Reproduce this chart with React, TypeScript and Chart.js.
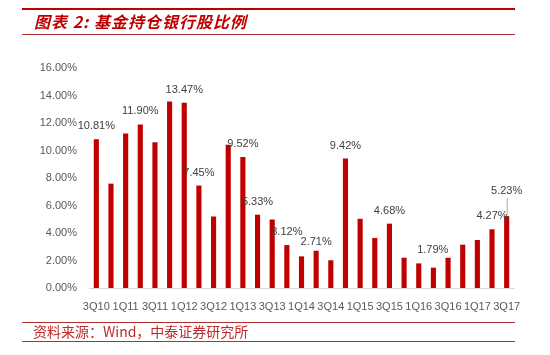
import React, { useEffect, useRef } from "react";
import { Chart, registerables } from "chart.js";

Chart.register(...registerables);

const categories = [
  "3Q10", "4Q10", "1Q11", "2Q11", "3Q11", "4Q11", "1Q12", "2Q12", "3Q12", "4Q12",
  "1Q13", "2Q13", "3Q13", "4Q13", "1Q14", "2Q14", "3Q14", "4Q14", "1Q15", "2Q15",
  "3Q15", "4Q15", "1Q16", "2Q16", "3Q16", "4Q16", "1Q17", "2Q17", "3Q17",
];

const holdings = [
  10.81, 7.59, 11.24, 11.9, 10.6, 13.57, 13.47, 7.45, 5.2, 10.42,
  9.52, 5.33, 4.98, 3.12, 2.3, 2.71, 2.02, 9.42, 5.03, 3.64,
  4.68, 2.2, 1.79, 1.48, 2.2, 3.15, 3.49, 4.27, 5.23,
];

const labelledQuarters = [
  "3Q10", "2Q11", "1Q12", "2Q12", "1Q13", "2Q13", "4Q13", "2Q14", "4Q14",
  "3Q15", "1Q16", "2Q17", "3Q17",
];

const yTicks = [0, 2, 4, 6, 8, 10, 12, 14, 16];

const titleText = "图表 2: 基金持仓银行股比例";
const sourceText = "资料来源：Wind，中泰证券研究所";

const RED = "#c00000";
const FONT = "'Liberation Sans', Arial, sans-serif";

const decorPlugin = {
  id: "decor",
  beforeDraw(chart: any) {
    const ctx = chart.ctx;
    ctx.save();
    ctx.fillStyle = "#ffffff";
    ctx.fillRect(0, 0, chart.width, chart.height);
    ctx.restore();
  },
  afterDraw(chart: any) {
    const ctx = chart.ctx;
    ctx.save();
    // header lines
    ctx.fillStyle = RED;
    ctx.fillRect(22, 8, 493, 2);
    ctx.fillStyle = "#b03030";
    ctx.fillRect(22, 34, 493, 1);
    // footer lines
    ctx.fillRect(22, 322, 493, 1);
    ctx.fillRect(22, 341, 493, 1);
    // title
    ctx.fillStyle = RED;
    ctx.textBaseline = "alphabetic";
    ctx.textAlign = "left";
    ctx.font = "italic bold 16px 'Noto Sans CJK SC', sans-serif";
    (ctx as any).letterSpacing = "1px";
    ctx.fillText(titleText, 34, 28);
    // footer
    ctx.font = "14px 'Noto Sans CJK SC', sans-serif";
    (ctx as any).letterSpacing = "0px";
    ctx.fillStyle = "#c0282a";
    ctx.fillText(sourceText, 33, 337);
    ctx.restore();
  },
};

const dataLabelPlugin = {
  id: "barLabels",
  afterDatasetsDraw(chart: any) {
    const ctx = chart.ctx;
    const meta = chart.getDatasetMeta(0);
    ctx.save();
    ctx.font = "11px " + FONT;
    ctx.fillStyle = "#404040";
    ctx.textAlign = "center";
    ctx.textBaseline = "middle";
    categories.forEach((q, i) => {
      if (!labelledQuarters.includes(q)) return;
      const bar = meta.data[i];
      let x = bar.x;
      let y = bar.y - 13;
      if (q === "1Q16") x += 14;
      if (q === "2Q14") y = bar.y - 9;
      if (q === "3Q17") {
        y = bar.y - 25;
        ctx.strokeStyle = "#a6a6a6";
        ctx.lineWidth = 1;
        ctx.beginPath();
        ctx.moveTo(bar.x + 0.5, y + 7);
        ctx.lineTo(bar.x + 0.5, bar.y - 1);
        ctx.stroke();
      }
      ctx.fillText(holdings[i].toFixed(2) + "%", x, y);
    });
    ctx.restore();
  },
};

export default function App() {
  const canvasRef = useRef<HTMLCanvasElement | null>(null);

  useEffect(() => {
    if (!canvasRef.current) return;
    const chart = new Chart(canvasRef.current, {
      type: "bar",
      data: {
        labels: categories,
        datasets: [
          {
            data: holdings,
            backgroundColor: RED,
            borderWidth: 0,
            categoryPercentage: 1,
            barPercentage: 0.35,
          },
        ],
      },
      options: {
        animation: false,
        responsive: true,
        maintainAspectRatio: false,
        layout: { padding: { left: 0, right: 36, top: 68, bottom: 0 } },
        plugins: {
          legend: { display: false },
          tooltip: { enabled: false },
          title: { display: false },
        },
        scales: {
          x: {
            grid: { display: false, drawTicks: false },
            border: { display: true, color: "#d9d9d9", width: 1 },
            ticks: {
              autoSkip: false,
              maxRotation: 0,
              minRotation: 0,
              padding: 12,
              color: "#595959",
              font: { family: FONT, size: 11 },
              callback: (_v: any, i: number) => (i % 2 === 0 ? categories[i] : ""),
            },
            afterFit: (scale: any) => {
              scale.height = 67;
            },
          },
          y: {
            min: 0,
            max: 16,
            afterBuildTicks: (scale: any) => {
              scale.ticks = yTicks.map((v) => ({ value: v }));
            },
            grid: { display: false, drawTicks: false },
            border: { display: false },
            ticks: {
              padding: 12,
              color: "#595959",
              font: { family: FONT, size: 11 },
              callback: (v: any) => Number(v).toFixed(2) + "%",
            },
            afterFit: (scale: any) => {
              scale.width = 89;
            },
          },
        },
      },
      plugins: [decorPlugin, dataLabelPlugin],
    });
    return () => chart.destroy();
  }, []);

  return (
    <div style={{ position: "fixed", left: 0, top: 0, width: 550, height: 355, background: "#fff" }}>
      <canvas ref={canvasRef} />
    </div>
  );
}
